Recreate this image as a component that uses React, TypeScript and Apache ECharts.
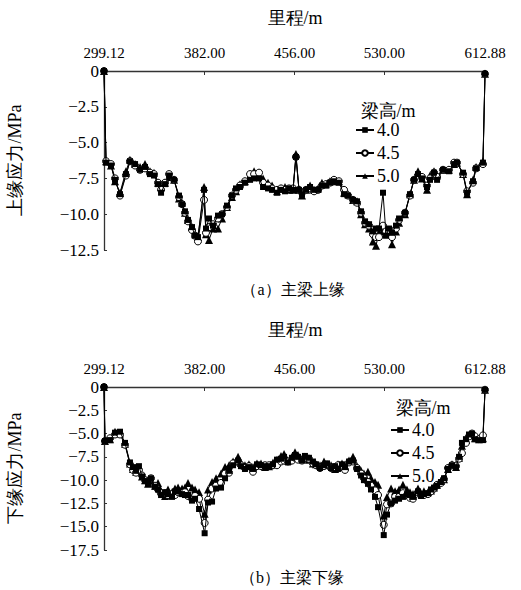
import React, { useEffect, useRef } from "react";
import * as echarts from "echarts";

// ---------- data ----------
const heights = ["4.0", "4.5", "5.0"];
const xLabelValues = [299.12, 382, 456, 530, 612.88];
const xTickValues = [382, 456, 530];

const topMileage = [
  299.12, 300.8, 304.9, 308.2, 312.3, 317.2, 320.5, 324.7, 328.8, 332.9,
  337.0, 340.3, 343.6, 346.1, 349.4, 352.7, 356.8, 360.9, 363.4, 365.8,
  368.3, 371.6, 374.1, 376.5, 381.5, 383.1, 385.6, 388.9, 393.0, 396.3,
  400.4, 404.5, 407.8, 411.1, 415.2, 419.4, 422.7, 426.8, 430.1, 434.2,
  437.5, 441.6, 444.9, 448.2, 451.5, 454.8, 457.2, 459.7, 462.2, 465.5,
  468.8, 472.1, 475.4, 478.6, 481.9, 485.2, 488.5, 492.6, 496.8, 500.1,
  504.2, 507.5, 510.8, 514.1, 517.4, 520.6, 523.1, 525.6, 528.9, 531.4,
  533.8, 536.3, 539.6, 542.1, 547.0, 551.1, 554.4, 557.7, 561.0, 565.1,
  567.6, 570.9, 573.4, 578.3, 583.2, 587.4, 589.8, 594.8, 598.1, 603.0,
  605.5, 611.2, 612.88,
];
const top40 = [
  0, -6.4, -6.6, -7.6, -8.6, -7.2, -6.3, -6.5, -6.9, -6.7,
  -7.2, -7.3, -7.9, -8.5, -7.9, -7.3, -7.6, -8.7, -9.3, -9.8,
  -10.4, -10.9, -11.5, -11.6, -8.3, -11.0, -10.3, -10.8, -10.1, -10.0,
  -9.4, -8.7, -8.2, -8.1, -7.8, -7.6, -7.5, -7.5, -8.1, -8.2,
  -8.3, -8.5, -8.3, -8.4, -8.2, -8.3, -6.0, -8.3, -8.6, -8.3,
  -8.1, -8.3, -8.3, -8.0, -8.0, -7.8, -7.7, -7.8, -8.6, -8.7,
  -9.0, -9.1, -9.8, -10.5, -10.7, -11.2, -11.0, -11.0, -8.5, -11.5,
  -11.0, -11.3, -10.8, -10.3, -9.9, -8.6, -7.6, -7.2, -7.5, -8.1,
  -7.6, -7.1, -7.6, -6.9, -7.0, -6.5, -6.4, -7.1, -8.5, -7.7,
  -6.8, -6.4, -0.2,
];
const top45 = [
  0, -6.3, -6.5, -7.5, -8.7, -7.3, -6.3, -6.6, -6.9, -6.8,
  -7.1, -7.2, -7.8, -8.3, -7.8, -7.2, -7.6, -8.8, -9.3, -9.9,
  -10.5, -11.1, -11.5, -11.9, -9.0, -11.3, -10.9, -10.7, -10.3, -10.0,
  -9.5, -8.7, -8.3, -8.0, -7.7, -7.2, -7.2, -7.1, -7.8, -8.0,
  -8.2, -8.3, -8.2, -8.3, -8.2, -8.2, -6.0, -8.3, -8.5, -8.3,
  -8.2, -8.4, -8.3, -8.0, -7.9, -7.8, -7.6, -7.7, -8.3, -8.7,
  -9.0, -9.2, -9.9, -10.6, -10.8, -11.4, -11.6, -11.6, -10.8, -11.2,
  -11.2, -11.6, -11.0, -10.4, -9.9, -8.7, -7.6, -7.3, -7.4, -8.0,
  -7.5, -7.1, -7.4, -6.9, -6.9, -6.4, -6.4, -7.2, -8.4, -7.8,
  -6.8, -6.5, -0.2,
];
const top50 = [
  0, -6.3, -6.6, -7.7, -8.5, -7.0, -6.2, -6.5, -6.7, -6.5,
  -7.0, -7.1, -7.8, -8.1, -7.8, -7.4, -7.6, -8.9, -9.2, -9.9,
  -10.4, -10.9, -11.4, -11.6, -8.1, -11.4, -11.8, -11.0, -11.0, -10.3,
  -9.5, -8.8, -8.4, -7.9, -7.7, -7.4, -7.0, -7.3, -7.5, -7.8,
  -8.0, -8.4, -8.2, -8.1, -8.3, -8.3, -5.8, -8.3, -8.7, -8.3,
  -8.0, -8.3, -8.2, -7.8, -7.9, -7.7, -7.7, -7.7, -8.5, -8.6,
  -9.0, -9.1, -10.0, -10.7, -11.0, -11.9, -12.2, -11.3, -11.2, -11.4,
  -11.3, -12.1, -11.2, -10.6, -10.0, -8.6, -7.6, -7.0, -7.5, -8.3,
  -7.3, -7.0, -7.3, -6.9, -6.9, -6.5, -6.4, -7.2, -8.6, -7.6,
  -6.7, -6.3, -0.2,
];

const bottomMileage = [
  299.12, 299.9, 304.1, 308.2, 312.3, 316.4, 320.5, 323.0, 325.5, 327.9,
  330.4, 332.9, 335.4, 337.8, 341.1, 343.6, 346.1, 349.4, 351.8, 355.1,
  357.6, 360.1, 363.4, 365.8, 368.3, 371.6, 374.1, 377.4, 382.0, 384.8,
  388.1, 391.4, 395.5, 398.8, 402.1, 405.4, 409.5, 411.9, 415.2, 418.5,
  421.8, 425.1, 428.4, 431.7, 435.0, 438.3, 441.6, 444.9, 447.4, 450.6,
  453.9, 456.4, 458.9, 462.2, 464.6, 467.9, 471.2, 473.7, 477.0, 480.3,
  482.8, 486.1, 489.4, 491.8, 495.1, 497.6, 500.9, 504.2, 507.5, 510.8,
  513.2, 516.5, 519.0, 522.3, 524.8, 529.5, 532.2, 535.5, 538.8, 542.1,
  545.3, 548.6, 551.1, 553.6, 557.7, 560.2, 562.6, 565.9, 568.4, 570.9,
  573.4, 576.6, 579.1, 582.4, 585.7, 589.0, 591.5, 593.9, 597.2, 599.7,
  602.2, 604.6, 607.9, 611.2, 612.88,
];
const bottom40 = [
  0, -5.8, -5.7, -4.9, -4.8, -6.0, -8.1, -8.6, -9.0, -8.5,
  -9.6, -10.1, -10.3, -9.8, -10.7, -11.0, -11.6, -11.3, -11.5, -11.8,
  -11.2, -11.2, -11.5, -11.6, -11.6, -12.2, -12.0, -13.1, -15.7, -12.4,
  -12.3, -10.9, -10.8, -9.8, -9.0, -8.4, -7.9, -8.5, -8.8, -8.6,
  -8.8, -8.3, -8.4, -8.5, -8.5, -8.3, -7.8, -7.7, -7.5, -8.1,
  -7.6, -7.3, -7.5, -7.9, -7.4, -7.6, -8.0, -8.3, -8.7, -8.4,
  -8.2, -8.7, -8.5, -8.8, -8.3, -8.6, -8.0, -7.9, -8.8, -9.5,
  -10.0, -10.4, -11.0, -11.8, -12.9, -15.9, -13.7, -12.5, -12.2, -12.0,
  -11.8, -11.5, -11.6, -11.8, -11.2, -11.7, -11.5, -11.4, -11.0, -10.8,
  -10.6, -10.2, -9.8, -8.8, -8.4, -8.6, -7.5, -6.0, -5.6, -5.1,
  -5.0, -5.6, -5.7, -5.7, -0.3,
];
const bottom45 = [
  0, -5.8, -5.5, -5.1, -5.1, -6.2, -8.3, -8.9, -9.2, -8.9,
  -9.5, -10.0, -10.1, -9.8, -10.6, -11.0, -11.4, -11.4, -11.6, -11.5,
  -11.6, -11.3, -11.4, -11.3, -11.7, -12.0, -11.7, -12.0, -14.6, -12.1,
  -10.9, -10.6, -10.3, -9.3, -9.2, -8.2, -8.0, -8.4, -8.7, -8.5,
  -9.1, -8.5, -8.5, -8.4, -8.4, -8.4, -8.4, -8.0, -7.9, -8.0,
  -7.9, -7.6, -7.8, -7.9, -7.6, -7.7, -8.2, -8.4, -8.7, -8.5,
  -8.4, -8.7, -8.6, -8.4, -8.6, -8.9, -8.1, -8.0, -8.7, -9.3,
  -9.8, -10.2, -10.6, -11.1, -11.6, -14.8, -12.6, -12.5, -11.8, -11.8,
  -11.4, -11.6, -11.9, -12.0, -11.3, -11.6, -11.6, -11.5, -11.2, -10.9,
  -10.5, -10.3, -9.9, -8.7, -8.4, -8.5, -7.7, -7.1, -6.0, -5.3,
  -5.0, -5.3, -5.6, -5.2, -0.3,
];
const bottom50 = [
  0, -5.8, -5.6, -4.8, -5.0, -6.1, -8.2, -8.8, -9.1, -8.8,
  -9.6, -10.0, -10.4, -10.0, -10.6, -10.3, -11.2, -11.7, -11.0, -11.3,
  -10.9, -10.8, -10.9, -10.8, -10.3, -10.8, -11.0, -11.3, -13.6, -11.0,
  -10.2, -9.8, -9.3, -8.6, -8.4, -8.0, -7.5, -8.1, -8.4, -8.3,
  -8.6, -8.2, -8.2, -8.6, -8.5, -8.1, -7.8, -7.4, -7.2, -7.9,
  -7.5, -7.0, -7.3, -7.7, -7.5, -7.8, -8.2, -8.3, -8.4, -8.0,
  -8.3, -8.4, -8.8, -8.3, -8.2, -8.5, -7.9, -7.5, -8.5, -9.0,
  -9.3, -9.1, -9.8, -10.2, -10.5, -13.8, -11.8, -10.9, -11.2, -11.0,
  -10.5, -11.0, -11.3, -11.5, -10.9, -11.4, -11.2, -11.3, -11.1, -10.8,
  -10.5, -10.1, -9.9, -8.8, -8.3, -8.6, -7.6, -6.3, -5.7, -5.2,
  -5.0, -5.5, -5.6, -5.5, -0.3,
];

// ---------- style ----------
const FONT = "Times New Roman";
const symbolStyles = [
  { symbol: "rect", symbolSize: 6, itemStyle: { color: "#000" } },
  { symbol: "circle", symbolSize: 7, itemStyle: { color: "#fff", borderColor: "#000", borderWidth: 1 } },
  { symbol: "triangle", symbolSize: 8, itemStyle: { color: "#000" } },
];

const zip = (xs: number[], ys: number[]) => xs.map((x, i) => [x, ys[i]]);

function makeSeries(idx: number, xs: number[], ys: number[], grid: number) {
  return {
    type: "line",
    name: heights[idx],
    xAxisIndex: grid,
    yAxisIndex: grid,
    data: zip(xs, ys),
    showSymbol: true,
    showAllSymbol: true,
    symbol: symbolStyles[idx].symbol,
    symbolSize: symbolStyles[idx].symbolSize,
    itemStyle: symbolStyles[idx].itemStyle,
    lineStyle: { color: "#000", width: 1 },
    z: 3 - idx,
  };
}

const yFmt = (v: number) => (v === 0 ? "0" : "\u2212" + Math.abs(v).toFixed(1));

function makeXAxis(grid: number) {
  return {
    type: "value",
    gridIndex: grid,
    position: "top",
    min: 299.12,
    max: 612.88,
    axisLine: { show: true, lineStyle: { color: "#333", width: 1.3 } },
    axisTick: { show: true, inside: true, length: 4, customValues: xTickValues, lineStyle: { color: "#333" } },
    axisLabel: {
      show: true,
      customValues: xLabelValues,
      formatter: (v: number) => v.toFixed(2),
      fontFamily: FONT,
      fontSize: 15,
      color: "#000",
      margin: 11,
    },
    splitLine: { show: false },
  };
}

function makeYAxis(grid: number, min: number) {
  return {
    type: "value",
    gridIndex: grid,
    min,
    max: 0,
    interval: 2.5,
    axisLine: { show: true, lineStyle: { color: "#333", width: 1.3 } },
    axisTick: { show: true, inside: true, length: 3, lineStyle: { color: "#333" } },
    axisLabel: { formatter: yFmt, fontFamily: FONT, fontSize: 17, color: "#000", margin: 5 },
    splitLine: { show: false },
  };
}

function makeLegend(left: number, top: number) {
  return {
    orient: "vertical",
    left,
    top,
    data: heights,
    itemWidth: 18,
    itemHeight: 7,
    itemGap: 5,
    selectedMode: false,
    textStyle: { fontFamily: FONT, fontSize: 18, color: "#000", padding: [0, 0, 0, -2] },
  };
}

const txt = (text: string, x: number, y: number, size: number, rotation = 0) => ({
  type: "text",
  x,
  y,
  rotation,
  style: { text, fontFamily: FONT, fontSize: size, fill: "#000", align: "center", verticalAlign: "middle" },
});

export default function App() {
  const ref = useRef<HTMLDivElement>(null);
  useEffect(() => {
    document.body.style.margin = "0";
    if (!ref.current) return;
    const chart = echarts.init(ref.current, null, { renderer: "svg" });
    chart.setOption({
      animation: false,
      backgroundColor: "#fff",
      textStyle: { fontFamily: FONT },
      grid: [
        { left: 104, right: 36, top: 71, height: 179, outerBoundsMode: "none" },
        { left: 104, right: 36, top: 387, height: 163, outerBoundsMode: "none" },
      ],
      xAxis: [makeXAxis(0), makeXAxis(1)],
      yAxis: [makeYAxis(0, -12.5), makeYAxis(1, -17.5)],
      legend: [makeLegend(350, 116), makeLegend(385, 416)],
      graphic: [
        txt("里程/m", 295, 18, 18),
        txt("上缘应力/MPa", 15, 160, 18, Math.PI / 2),
        txt("（a）主梁上缘", 293, 289, 16),
        txt("梁高/m", 388, 111, 18),
        txt("里程/m", 295, 330, 18),
        txt("下缘应力/MPa", 15, 468, 18, Math.PI / 2),
        txt("（b）主梁下缘", 292, 577, 16),
        txt("梁高/m", 423, 408, 18),
      ],
      series: [
        makeSeries(0, topMileage, top40, 0),
        makeSeries(1, topMileage, top45, 0),
        makeSeries(2, topMileage, top50, 0),
        makeSeries(0, bottomMileage, bottom40, 1),
        makeSeries(1, bottomMileage, bottom45, 1),
        makeSeries(2, bottomMileage, bottom50, 1),
      ],
    });
    return () => chart.dispose();
  }, []);
  return <div ref={ref} style={{ width: 521, height: 590 }} />;
}
